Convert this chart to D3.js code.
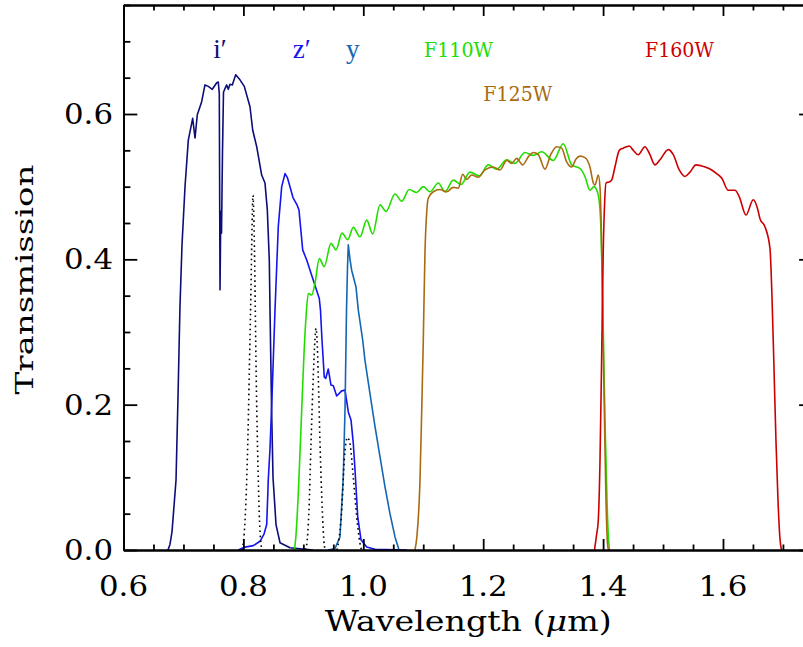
<!DOCTYPE html>
<html>
<head>
<meta charset="utf-8">
<script src="https://cdn.jsdelivr.net/npm/d3@7/dist/d3.min.js"></script>
<style>
  html, body { margin: 0; padding: 0; background: #fff; }
  svg { display: block; }
</style>
</head>
<body>
<svg id="chart" width="803" height="647"></svg>
<script>
// Filter transmission curves: [wavelength (µm), transmission]
const bandI = [
  [0.6742,0],[0.6776,0.008],[0.6809,0.025],[0.6876,0.096],[0.6909,0.21],[0.6942,0.335],
  [0.6976,0.42],[0.7026,0.50],[0.7081,0.564],[0.7154,0.594],[0.7193,0.567],[0.7231,0.599],
  [0.7304,0.617],[0.7359,0.640],[0.7415,0.638],[0.7481,0.634],[0.7555,0.643],[0.7581,0.644],
  [0.7598,0.628],[0.7610,0.358],[0.7623,0.466],[0.7635,0.436],[0.7651,0.546],[0.7668,0.630],
  [0.7693,0.635],[0.7721,0.640],[0.7748,0.634],[0.7776,0.641],[0.7815,0.640],[0.7872,0.654],
  [0.7943,0.647],[0.8015,0.638],[0.8110,0.610],[0.8155,0.578],[0.8222,0.555],[0.8305,0.516],
  [0.8360,0.505],[0.8399,0.468],[0.8432,0.399],[0.8444,0.330],[0.8469,0.200],[0.8494,0.100],
  [0.8544,0.035],[0.8611,0.010],[0.8777,0.003],[0.9161,0]
];
const bandZ = [
  [0.7915,0],[0.8027,0.004],[0.8165,0.006],[0.8277,0.012],[0.8344,0.022],[0.8389,0.035],
  [0.8415,0.096],[0.8444,0.14],[0.8477,0.21],[0.8527,0.33],[0.8582,0.445],[0.8639,0.50],
  [0.8694,0.518],[0.8736,0.512],[0.8777,0.50],[0.8827,0.485],[0.8894,0.475],[0.8927,0.468],
  [0.8989,0.413],[0.9056,0.399],[0.9139,0.378],[0.9211,0.360],[0.9266,0.346],[0.9286,0.330],
  [0.9311,0.289],[0.9349,0.238],[0.9373,0.236],[0.9416,0.249],[0.9461,0.227],[0.9500,0.226],
  [0.9556,0.212],[0.9640,0.219],[0.9695,0.220],[0.9750,0.190],[0.9795,0.179],[0.9833,0.147],
  [0.9862,0.110],[0.9907,0.046],[0.9962,0.014],[1.0057,0.004],[1.0195,0.001],[1.0724,0]
];
const bandY = [
  [0.9411,0],[0.9528,0.002],[0.9611,0.018],[0.9666,0.10],[0.9695,0.193],[0.9720,0.33],
  [0.9737,0.39],[0.9750,0.42],[0.9778,0.40],[0.9806,0.385],[0.9878,0.362],[0.9917,0.33],
  [0.9990,0.289],[1.0028,0.261],[1.0112,0.215],[1.0195,0.17],[1.0279,0.128],[1.0362,0.087],
  [1.0445,0.05],[1.0529,0.018],[1.0596,0]
];
const bandF110W = [
  [0.8852,0],[0.8877,0.02],[0.8916,0.078],[0.8973,0.193],[0.9011,0.27],[0.9044,0.32],
  [0.9083,0.353],[0.9139,0.351],[0.9194,0.367],[0.9266,0.401],[0.9349,0.390],[0.9461,0.422],
  [0.9545,0.413],[0.9645,0.436],[0.9740,0.427],[0.9833,0.444],[0.9945,0.431],[1.0057,0.454],
  [1.0157,0.435],[1.0279,0.475],[1.0379,0.466],[1.0529,0.490],[1.0641,0.480],[1.0767,0.496],
  [1.0891,0.492],[1.1001,0.500],[1.1113,0.493],[1.1251,0.505],[1.1363,0.493],[1.1501,0.509],
  [1.1630,0.503],[1.1780,0.520],[1.1935,0.515],[1.2085,0.530],[1.2225,0.524],[1.2392,0.537],
  [1.2530,0.532],[1.2697,0.547],[1.2836,0.543],[1.2976,0.548],[1.3169,0.536],[1.3336,0.559],
  [1.3476,0.530],[1.3615,0.525],[1.3698,0.514],[1.3781,0.495],[1.3848,0.500],[1.3890,0.496],
  [1.3937,0.479],[1.3965,0.44],[1.3993,0.35],[1.4015,0.25],[1.4040,0.15],[1.4065,0.07],
  [1.4087,0.02],[1.4107,0]
];
const bandF125W = [
  [1.0862,0],[1.0896,0.02],[1.0946,0.096],[1.0974,0.19],[1.1001,0.289],[1.1029,0.41],
  [1.1058,0.465],[1.1084,0.484],[1.1168,0.493],[1.1279,0.496],[1.1391,0.493],[1.1501,0.499],
  [1.1585,0.498],[1.1658,0.517],[1.1725,0.510],[1.1808,0.516],[1.1918,0.513],[1.2030,0.523],
  [1.2168,0.527],[1.2280,0.523],[1.2392,0.536],[1.2475,0.532],[1.2559,0.539],[1.2659,0.530],
  [1.2752,0.541],[1.2836,0.547],[1.2919,0.544],[1.3031,0.524],[1.3126,0.544],[1.3226,0.555],
  [1.3309,0.553],[1.3393,0.534],[1.3476,0.527],[1.3548,0.538],[1.3615,0.542],[1.3698,0.540],
  [1.3781,0.527],[1.3837,0.505],[1.3865,0.502],[1.3920,0.516],[1.3948,0.500],[1.3977,0.413],
  [1.3998,0.30],[1.4023,0.18],[1.4048,0.07],[1.4073,0.01],[1.4090,0]
];
const bandF160W = [
  [1.3857,0],[1.3890,0.02],[1.3920,0.041],[1.3948,0.12],[1.3977,0.27],[1.4003,0.413],
  [1.4027,0.48],[1.4048,0.505],[1.4115,0.507],[1.4143,0.509],[1.4198,0.527],[1.4270,0.550],
  [1.4337,0.553],[1.4437,0.556],[1.4504,0.550],[1.4587,0.544],[1.4699,0.555],[1.4771,0.546],
  [1.4866,0.530],[1.4949,0.537],[1.5088,0.551],[1.5171,0.544],[1.5271,0.523],[1.5366,0.514],
  [1.5450,0.520],[1.5550,0.530],[1.5700,0.527],[1.5812,0.523],[1.5895,0.518],[1.5978,0.512],
  [1.6088,0.495],[1.6200,0.495],[1.6272,0.486],[1.6384,0.461],[1.6505,0.482],[1.6576,0.470],
  [1.6617,0.456],[1.6700,0.445],[1.6784,0.415],[1.6817,0.35],[1.6851,0.25],[1.6884,0.15],
  [1.6917,0.07],[1.6951,0.015],[1.6976,0]
];
// Emission-line profiles (dotted)
const line1 = [
  [0.7977,0],[0.8002,0.012],[0.8027,0.04],[0.8055,0.096],[0.8077,0.16],[0.8102,0.26],
  [0.8122,0.34],[0.8139,0.42],[0.8152,0.475],[0.8160,0.488],[0.8172,0.465],[0.8189,0.39],
  [0.8205,0.29],[0.8224,0.19],[0.8249,0.096],[0.8269,0.04],[0.8289,0.012],[0.8310,0]
];
const line2 = [
  [0.9036,0],[0.9056,0.007],[0.9094,0.055],[0.9128,0.147],[0.9166,0.239],[0.9194,0.29],
  [0.9211,0.305],[0.9228,0.29],[0.9249,0.239],[0.9278,0.147],[0.9316,0.055],[0.9349,0.007],
  [0.9369,0]
];
const line3 = [
  [0.9561,0],[0.9583,0.009],[0.9640,0.055],[0.9683,0.124],[0.9711,0.148],[0.9733,0.155],
  [0.9753,0.153],[0.9778,0.147],[0.9833,0.10],[0.9890,0.046],[0.9945,0.009],[0.9970,0]
];

// Axis ticks
const xMajor = [0.6, 0.8, 1.0, 1.2, 1.4, 1.6];
const yMajor = [0.0, 0.2, 0.4, 0.6];
const xDomain = [0.6, 1.75];
const yDomain = [0, 0.75];

// Band name labels: [text, wavelength, transmission of baseline]
const bandLabels = [
  ["F110W", 1.1013, 0.678],
  ["F125W", 1.2002, 0.618],
  ["F160W", 1.4699, 0.678]
];
const sdssLabels = [
  ["i\u2032", 0.7497, 0.677],
  ["z\u2032", 0.8822, 0.677],
  ["y",       0.9711, 0.677]
];

const svg = d3.select("#chart");
const pLeft = 123.5, pRight = 812.9, pTop = 5, pBottom = 550;
const x = d3.scaleLinear().domain(xDomain).range([pLeft, pRight]);
const y = d3.scaleLinear().domain(yDomain).range([pBottom, pTop]);

const colors = {
  i: "#0d0d78", z: "#1414f0", y: "#1466b4",
  F110W: "#22dd00", F125W: "#aa6a10", F160W: "#cc0000", line: "#000"
};

const slab = "'DejaVu Serif', serif";

svg.append("clipPath").attr("id", "plotclip")
  .append("rect").attr("x", pLeft).attr("y", pTop)
  .attr("width", pRight - pLeft).attr("height", pBottom - pTop);

const plot = svg.append("g").attr("clip-path", "url(#plotclip)");

const straight = d3.line().x(d => x(d[0])).y(d => y(d[1]));
const smooth = d3.line().x(d => x(d[0])).y(d => y(d[1])).curve(d3.curveMonotoneX);

function draw(data, gen, color, dash) {
  plot.append("path").datum(data)
    .attr("d", gen)
    .attr("fill", "none")
    .attr("stroke", color)
    .attr("stroke-width", 1.6)
    .attr("stroke-linejoin", "round")
    .attr("stroke-dasharray", dash || null);
}

draw(bandI, straight, colors.i);
draw(bandZ, straight, colors.z);
draw(bandY, straight, colors.y);
draw(bandF110W, smooth, colors.F110W);
draw(bandF125W, smooth, colors.F125W);
draw(bandF160W, smooth, colors.F160W);
[line1, line2, line3].forEach(l => draw(l, smooth, colors.line, "1.6,3.4"));

// Axes: ticks point inward on all four sides
const xMinor = d3.range(0.6, 1.7501, 0.05).filter(v => !xMajor.some(m => Math.abs(m - v) < 1e-6));
const yMinor = d3.range(0, 0.7501, 0.05).filter(v => !yMajor.some(m => Math.abs(m - v) < 1e-6));

function axisGroup(axis, tx, ty) {
  const g = svg.append("g").attr("transform", `translate(${tx},${ty})`).call(axis);
  g.selectAll("path, line").attr("stroke", "#000").attr("stroke-width", 1.8);
  g.selectAll("text").remove();
  return g;
}
const xLen = 11, yLen = 13.8;
axisGroup(d3.axisBottom(x).tickValues(xMajor).tickSize(-xLen).tickSizeOuter(0).tickFormat(""), 0, pBottom);
axisGroup(d3.axisBottom(x).tickValues(xMinor).tickSize(-xLen / 2).tickSizeOuter(0).tickFormat(""), 0, pBottom);
axisGroup(d3.axisTop(x).tickValues(xMajor).tickSize(-xLen).tickSizeOuter(0).tickFormat(""), 0, pTop);
axisGroup(d3.axisTop(x).tickValues(xMinor).tickSize(-xLen / 2).tickSizeOuter(0).tickFormat(""), 0, pTop);
axisGroup(d3.axisLeft(y).tickValues(yMajor).tickSize(-yLen).tickSizeOuter(0).tickFormat(""), pLeft, 0);
axisGroup(d3.axisLeft(y).tickValues(yMinor).tickSize(-yLen / 2).tickSizeOuter(0).tickFormat(""), pLeft, 0);
axisGroup(d3.axisRight(y).tickValues(yMajor).tickSize(-yLen).tickSizeOuter(0).tickFormat(""), pRight, 0);
axisGroup(d3.axisRight(y).tickValues(yMinor).tickSize(-yLen / 2).tickSizeOuter(0).tickFormat(""), pRight, 0);

// Text helper: slab-serif text fitted to a given advance length
function fitText(parent, tx, ty, str, anchor, size, len, color) {
  return parent.append("text")
    .attr("x", tx).attr("y", ty)
    .attr("text-anchor", anchor)
    .attr("font-family", slab)
    .attr("font-size", size)
    .attr("textLength", len)
    .attr("lengthAdjust", "spacingAndGlyphs")
    .attr("fill", color || "#000")
    .text(str);
}

const fmt = d3.format(".1f");
const labels = svg.append("g");
xMajor.forEach(v => fitText(labels, x(v), 596, fmt(v), "middle", 27, 49));
yMajor.forEach(v => fitText(labels, 113, y(v) + 10, fmt(v), "end", 27, 49));

// Axis titles
const xt = svg.append("text")
  .attr("x", (pLeft + pRight) / 2).attr("y", 631)
  .attr("text-anchor", "middle")
  .attr("font-family", slab).attr("font-size", 27)
  .attr("textLength", 287).attr("lengthAdjust", "spacingAndGlyphs")
  .attr("fill", "#000");
xt.append("tspan").text("Wavelength (");
xt.append("tspan").attr("font-style", "italic").text("\u03bc");
xt.append("tspan").text("m)");

svg.append("text")
  .attr("transform", `translate(33,${(pTop + pBottom) / 2 + 2}) rotate(-90)`)
  .attr("text-anchor", "middle")
  .attr("font-family", slab).attr("font-size", 25)
  .attr("textLength", 230).attr("lengthAdjust", "spacingAndGlyphs")
  .attr("fill", "#000")
  .text("Transmission");

// Band names
const bandColor = { "F110W": colors.F110W, "F125W": colors.F125W, "F160W": colors.F160W };
bandLabels.forEach(([t, w, v]) => fitText(labels, x(w), y(v), t, "start", 21, 69, bandColor[t]));

const sdssColor = [colors.i, colors.z, colors.y];
sdssLabels.forEach(([t, w, v], k) => {
  svg.append("text")
    .attr("x", x(w)).attr("y", y(v))
    .attr("font-family", "'Liberation Serif', 'Times New Roman', serif")
    .attr("font-size", 27)
    .attr("fill", sdssColor[k])
    .text(t);
});
</script>
</body>
</html>
